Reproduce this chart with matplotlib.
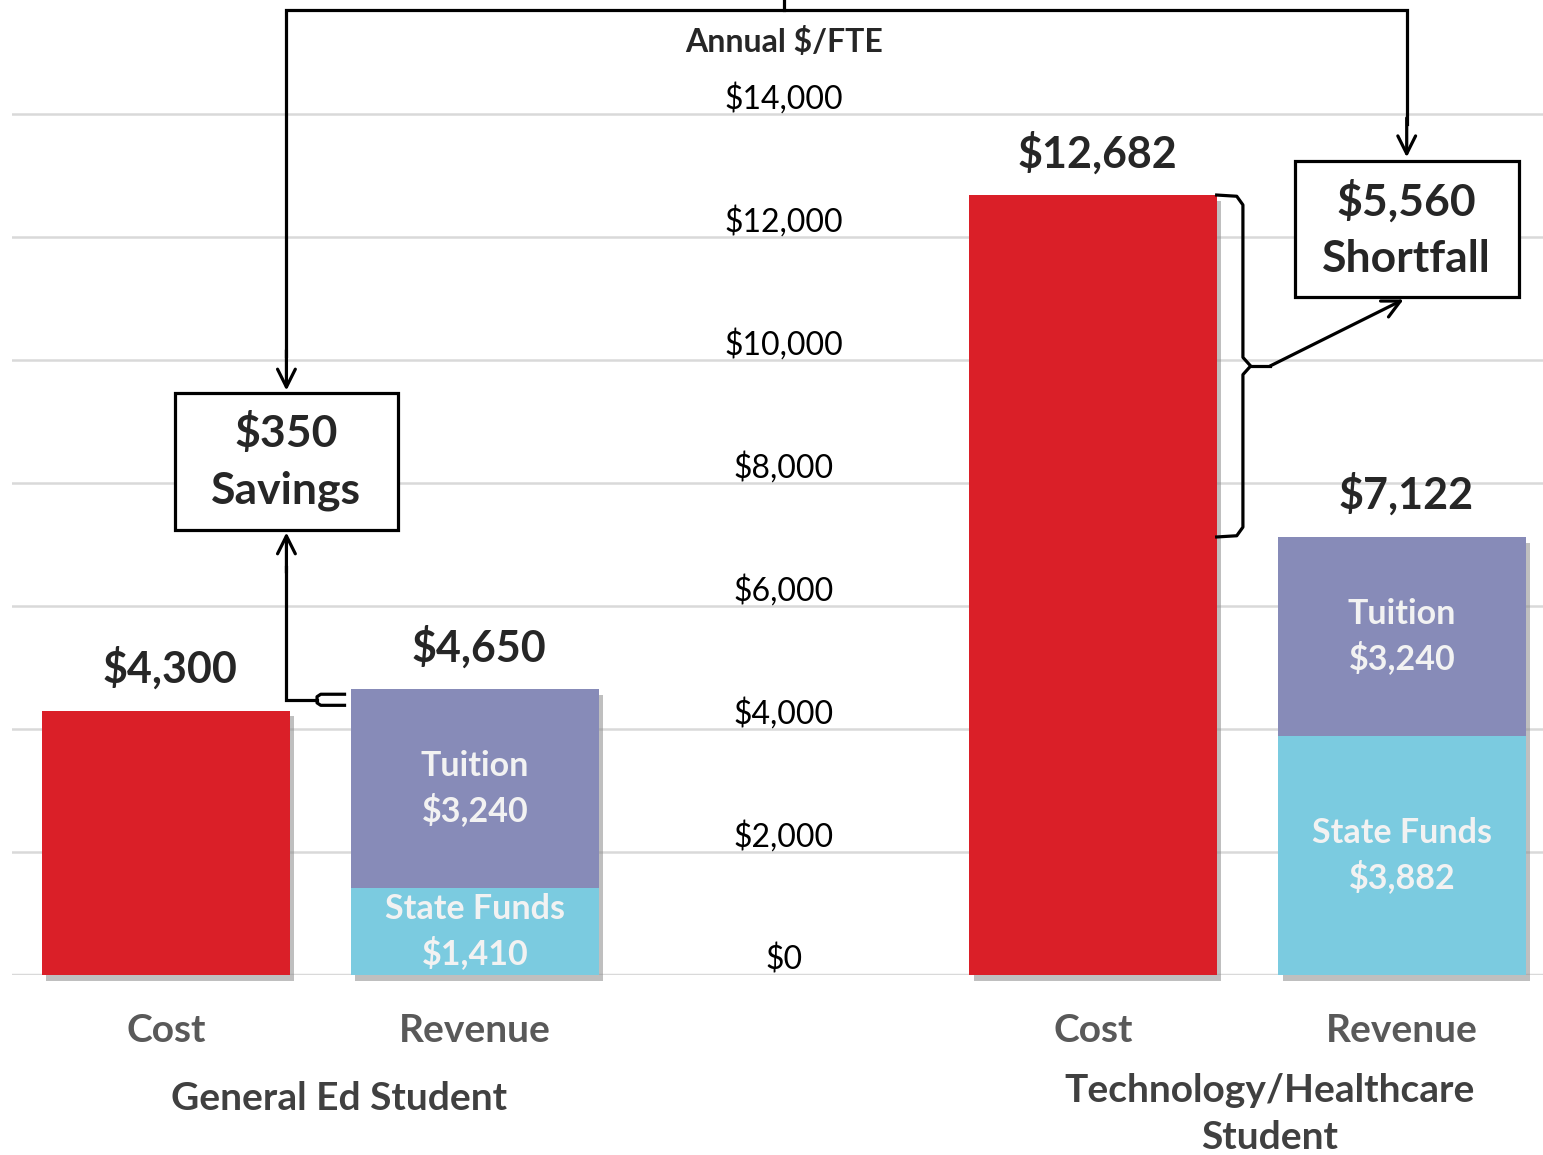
import matplotlib.pyplot as plt
from matplotlib import patheffects as pe
from matplotlib.patches import Rectangle

plt.rcParams["font.family"] = ["Lato", "DejaVu Sans"]

# data
groups = ["General Ed Student", "Technology/Healthcare\nStudent"]
bar_names = ["Cost", "Revenue"]
cost = [4300, 12682]
tuition = [3240, 3240]
state_funds = [1410, 3882]
y_ticks = [0, 2000, 4000, 6000, 8000, 10000, 12000, 14000]

revenue = [t + s for t, s in zip(tuition, state_funds)]
savings = revenue[0] - cost[0]
shortfall = cost[1] - revenue[1]

RED = "#DA1F28"
PURPLE = "#878BB8"
BLUE = "#7BCBE0"
DARK = "#262626"
GRAY = "#595959"
WHITE = "#F2F2F2"

fig = plt.figure(figsize=(15.43, 11.55), dpi=100)
ax = fig.add_axes([12 / 1543, 180 / 1155, 1531 / 1543, 975 / 1155])
ax.set_xlim(-0.498, 4.456)
ax.set_ylim(0, 15853)
ax.axis("off")

cost_x = [0, 3]
rev_x = [1, 4]
w = 0.8

# gridlines + tick labels in the middle
for t in y_ticks:
    ax.axhline(t, color="#D9D9D9", lw=2.5 if t == 0 else 1.8, zorder=0)
    ax.annotate(f"${t:,}", (2, t), xytext=(0, 4), textcoords="offset points",
                ha="center", va="baseline", fontsize=23, color="black")
ax.text(2, 15170, "Annual $/FTE", ha="center", va="center", fontsize=23,
        fontweight="bold", color=DARK)

shadow = [pe.SimplePatchShadow(offset=(3, -4), shadow_rgbFace="#8C8C8C", alpha=0.55),
          pe.Normal()]
ax.bar(cost_x, cost, w, color=RED, zorder=2, path_effects=shadow, clip_on=False)
ax.bar(rev_x, tuition, w, bottom=state_funds, color=PURPLE, zorder=2,
       path_effects=shadow, clip_on=False)
ax.bar(rev_x, state_funds, w, color=BLUE, zorder=3, path_effects=shadow, clip_on=False)

# totals above bars
for x, v in zip(cost_x + rev_x, cost + revenue):
    ax.annotate(f"${v:,}", (x, v), xytext=(3, 15), textcoords="offset points",
                ha="center", va="bottom", fontsize=31, fontweight="bold", color=DARK)

# segment labels
for x, s, t in zip(rev_x, state_funds, tuition):
    ax.text(x, s / 2, f"State Funds\n${s:,}", ha="center", va="center",
            fontsize=24.5, fontweight="bold", color=WHITE, linespacing=1.4, zorder=4)
    ax.text(x, s + t / 2, f"Tuition\n${t:,}", ha="center", va="center",
            fontsize=24.5, fontweight="bold", color=WHITE, linespacing=1.4, zorder=4)

# category labels
for x in cost_x:
    ax.text(x, -910, bar_names[0], ha="center", va="center", fontsize=28,
            fontweight="bold", color=GRAY, clip_on=False)
for x in rev_x:
    ax.text(x, -910, bar_names[1], ha="center", va="center", fontsize=28,
            fontweight="bold", color=GRAY, clip_on=False)
ax.text(0.56, -2000, groups[0], ha="center", va="center", fontsize=28,
        fontweight="bold", color="#404040", clip_on=False)
ax.text(3.57, -2260, groups[1], ha="center", va="center", fontsize=28,
        fontweight="bold", color="#404040", linespacing=1.4, clip_on=False)

# annotation boxes
lw = 2.3
arrow = dict(arrowstyle="->", lw=lw, color="black", mutation_scale=32,
             shrinkA=0, shrinkB=0)
sav_x, sav_y0, sav_y1 = 0.39, 7236, 9463
short_x, short_y0, short_y1 = 4.015, 11024, 13236
ax.add_patch(Rectangle((sav_x - 0.362, sav_y0), 0.724, sav_y1 - sav_y0,
                       fc="white", ec="black", lw=lw, zorder=5))
ax.text(sav_x, (sav_y0 + sav_y1) / 2, f"${savings:,}\nSavings", ha="center",
        va="center", fontsize=32, fontweight="bold", color=DARK, linespacing=1.48,
        zorder=6)
ax.add_patch(Rectangle((short_x - 0.362, short_y0), 0.724, short_y1 - short_y0,
                       fc="white", ec="black", lw=lw, zorder=5))
ax.text(short_x, (short_y0 + short_y1) / 2, f"${shortfall:,}\nShortfall",
        ha="center", va="center", fontsize=32, fontweight="bold", color=DARK,
        linespacing=1.48, zorder=6)

# top connector
top_y = 15690
ax.plot([2, 2], [top_y, 15853], color="black", lw=lw, clip_on=False)
ax.plot([sav_x, sav_x, short_x, short_x], [sav_y1 + 600, top_y, top_y, short_y1 + 600],
        color="black", lw=lw, solid_joinstyle="miter")
ax.annotate("", xy=(sav_x, sav_y1 + 40), xytext=(sav_x, sav_y1 + 700), arrowprops=arrow)
ax.annotate("", xy=(short_x, short_y1 + 60), xytext=(short_x, short_y1 + 700),
            arrowprops=arrow)

# savings bracket between cost and revenue tops
mid = (cost[0] + revenue[0]) / 2
bx0, bx1 = 0.489, 0.578
ax.plot([bx1, bx0 + 0.012, bx0, bx0, bx0 + 0.012, bx1],
        [mid + 90, mid + 90, mid + 50, mid - 50, mid - 90, mid - 90],
        color="black", lw=lw, zorder=5)
ax.plot([bx0, sav_x, sav_x], [mid, mid, sav_y0 - 600], color="black", lw=lw,
        solid_joinstyle="miter")
ax.annotate("", xy=(sav_x, sav_y0 - 40), xytext=(sav_x, sav_y0 - 700), arrowprops=arrow)

# shortfall brace beside cost bar
e = cost_x[1] + w / 2
bx = 3.485
mid2 = (cost[1] + revenue[1]) / 2
ax.plot([e, bx - 0.02, bx, bx, bx + 0.025, bx, bx, bx - 0.02, e],
        [cost[1], cost[1] - 20, cost[1] - 160, mid2 + 140, mid2, mid2 - 140,
         revenue[1] + 160, revenue[1] + 20, revenue[1]],
        color="black", lw=lw, zorder=5)
ax.plot([bx + 0.025, 3.573], [mid2, mid2], color="black", lw=lw)
ax.annotate("", xy=(short_x - 0.01, short_y0 - 40), xytext=(3.573, mid2), arrowprops=arrow)

fig.savefig("out.png", dpi=100)
